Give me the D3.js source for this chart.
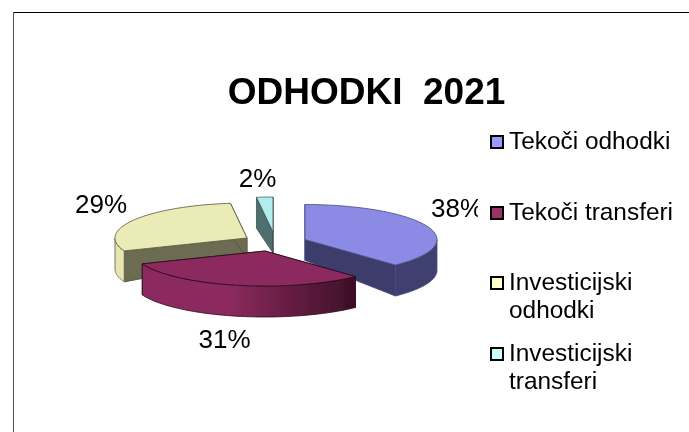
<!DOCTYPE html>
<html>
<head>
<meta charset="utf-8">
<script src="https://cdn.jsdelivr.net/npm/d3@7"></script>
<style>
  html, body { margin: 0; padding: 0; background: #fff; }
  svg { display: block; }
  text { font-family: "Liberation Sans", Arial, sans-serif; fill: #000; }
</style>
</head>
<body>
<div id="chart"></div>
<script>
const categories = ["Tekoči odhodki", "Tekoči transferi", "Investicijski odhodki", "Investicijski transferi"];
const values = [38, 31, 29, 2];
const chartTitle = "ODHODKI  2021";

const topColors = ["#8b8be6", "#8c2b5e", "#ebebb8", "#b2ecec"];
const rimColors = ["#3f3f70", "url(#redRim)", "#e6e6b2", "#4f6e6e"];
const cutColors = ["#3c3c6c", "#4a1630", "#6c6c52", "#4f6e6e"];
const edgeColors = ["#4a4a80", "#2a0c1c", "#55553f", "#3c5252"];
const legendColors = ["#9999ff", "#993366", "#ffffcc", "#ccffff"];

// how far each slice is pulled out of the pie
const sliceShift = [[31, -3], [-9, 8.5], [-27, -4.5], [-1, -10.5]];
const labelPos = [[457, 217], [224.5, 348], [101, 213], [257.5, 187]];
const legendY = [135, 206, 276, 347];

function renderPie(selector) {
    const width = 689, height = 432;
    const svg = d3.select(selector).append("svg")
        .attr("width", width)
        .attr("height", height);

    const defs = svg.append("defs");
    const grad = defs.append("linearGradient")
        .attr("id", "redRim")
        .attr("gradientUnits", "userSpaceOnUse")
        .attr("x1", 142).attr("x2", 356).attr("y1", 0).attr("y2", 0);
    grad.append("stop").attr("offset", "0.4").attr("stop-color", "#8c2b5e");
    grad.append("stop").attr("offset", "1").attr("stop-color", "#3c0f26");
    defs.append("filter").attr("id", "soft")
        .append("feGaussianBlur").attr("stdDeviation", 0.45);
    defs.append("filter").attr("id", "softText")
        .append("feGaussianBlur").attr("stdDeviation", 0.3);

    // frame: only top and left edges show in the picture
    svg.append("line").attr("x1", 13).attr("x2", width).attr("y1", 12.5).attr("y2", 12.5)
        .attr("stroke", "#000").attr("stroke-width", 1);
    svg.append("line").attr("x1", 13.5).attr("x2", 13.5).attr("y1", 12).attr("y2", height)
        .attr("stroke", "#555").attr("stroke-width", 1);

    svg.append("text")
        .attr("x", 366.5).attr("y", 104)
        .attr("text-anchor", "middle")
        .attr("font-size", 37).attr("font-weight", "bold")
        .attr("filter", "url(#softText)")
        .style("white-space", "pre")
        .text(chartTitle);

    const cx = 274, cy = 242.5, rx = 132, ry = 35;
    const apexDepth = 21, rimDepth = 31;

    const pie = d3.pie().sort(null)(values);
    const rimPoint = (apex, a) => [apex[0] + rx * Math.sin(a), apex[1] - ry * Math.cos(a)];
    const arcPoints = (apex, a0, a1) => d3.range(0, 61).map(i => rimPoint(apex, a0 + (a1 - a0) * i / 60));
    const lower = (p, d) => [p[0], p[1] + d];
    const line = d3.line();

    const slices = pie.map((d, i) => {
        const apex = [cx + sliceShift[i][0], cy + sliceShift[i][1]];
        return {d, i, apex};
    });

    const pieG = svg.append("g").attr("filter", "url(#soft)");

    // far slices first so the red one sits on top
    [2, 3, 0, 1].forEach(k => {
        const {d, i, apex} = slices[k];
        const g = pieG.append("g");
        const a0 = d.startAngle, a1 = d.endAngle;

        [a0, a1].forEach(a => {
            const r = rimPoint(apex, a);
            g.append("path")
                .attr("d", line([apex, r, lower(r, rimDepth), lower(apex, apexDepth)]) + "Z")
                .attr("fill", cutColors[i])
                .attr("stroke", edgeColors[i]).attr("stroke-width", 0.8);
        });

        const front0 = Math.max(a0, Math.PI / 2), front1 = Math.min(a1, Math.PI * 1.5);
        if (front1 > front0) {
            const arc = arcPoints(apex, front0, front1);
            g.append("path")
                .attr("d", line(arc.concat(arc.slice().reverse().map(p => lower(p, rimDepth)))) + "Z")
                .attr("fill", rimColors[i])
                .attr("stroke", edgeColors[i]).attr("stroke-width", 0.8);
        }

        g.append("path")
            .attr("d", line([apex].concat(arcPoints(apex, a0, a1))) + "Z")
            .attr("fill", topColors[i])
            .attr("stroke", edgeColors[i]).attr("stroke-width", 0.8);
    });

    svg.selectAll(".pct")
        .data(values)
        .enter()
        .append("text")
        .attr("class", "pct")
        .attr("x", (d, i) => labelPos[i][0])
        .attr("y", (d, i) => labelPos[i][1])
        .attr("text-anchor", "middle")
        .attr("font-size", 26)
        .attr("filter", "url(#softText)")
        .text(d => `${d}%`);

    // the legend box is opaque and cuts the end of the 38% label
    svg.append("rect")
        .attr("x", 478).attr("y", 125)
        .attr("width", 205).attr("height", 280)
        .attr("fill", "#fff");

    const legend = svg.selectAll(".legend")
        .data(categories)
        .enter()
        .append("g")
        .attr("class", "legend")
        .attr("transform", (d, i) => `translate(490, ${legendY[i]})`);

    legend.append("rect")
        .attr("x", 1).attr("y", 1)
        .attr("width", 12).attr("height", 12)
        .attr("fill", (d, i) => legendColors[i])
        .attr("stroke", "#000").attr("stroke-width", 2);

    legend.each(function(d) {
        const parts = d.startsWith("Investicijski") ? d.split(" ") : [d];
        const t = d3.select(this).append("text")
            .attr("font-size", 24.4)
            .attr("filter", "url(#softText)");
        parts.forEach((p, j) => {
            t.append("tspan")
                .attr("x", 19)
                .attr("y", 13.5 + j * 28)
                .text(p);
        });
    });
}

renderPie("#chart");
</script>
</body>
</html>
